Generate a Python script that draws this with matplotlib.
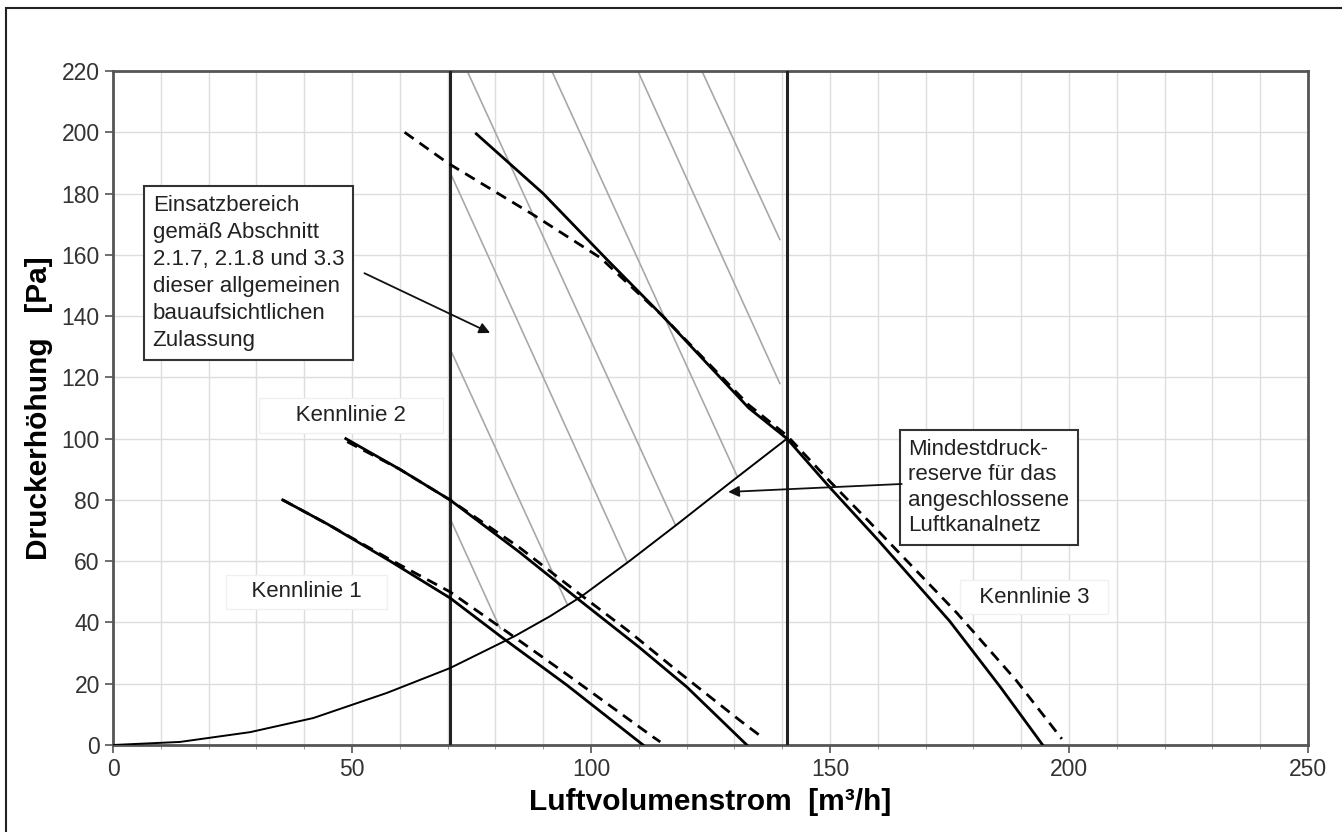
import matplotlib
matplotlib.use("Agg")
import matplotlib.pyplot as plt
from matplotlib.patches import Rectangle

plt.rcParams['font.family'] = ['Liberation Sans', 'DejaVu Sans']

# Kennlinie 1
k1_x = [35.5, 45, 58, 70.5, 81.3, 95, 110.9]
k1_y = [80, 72, 60, 48, 35.2, 19.5, 0]
k1d_x = [35.5, 45, 58, 70.5, 81, 95, 113, 114.5]
k1d_y = [80, 72, 60.5, 50, 38.5, 23, 2.6, 1]

# Kennlinie 2
k2_x = [48.7, 60, 70.5, 85, 97, 110, 120, 132.6]
k2_y = [100, 90, 80, 63, 48, 32, 19, 0]
k2d_x = [49, 60, 70.5, 85, 97, 108, 118.6, 131, 136]
k2d_y = [99, 90, 80, 64.5, 50, 37, 23.5, 8.2, 2.3]

# Kennlinie 3
k3_x = [76, 90, 103, 115, 133, 141, 150, 160, 175, 185.6, 194.5]
k3_y = [199.5, 180, 159, 140, 110, 100, 84, 67, 40.5, 19, 0]
k3d_x = [61, 70, 88, 102, 115, 133, 141, 150, 160, 176.6, 189, 198.5]
k3d_y = [200, 190, 173, 159, 140, 111, 101, 86, 70, 43, 21, 2]

# Anlagenkennlinie (Mindestdruckreserve)
sys_x = [0, 14, 28.7, 41.9, 57.3, 70.5, 84, 91.4, 98, 108, 118, 129, 141]
sys_y = [0, 1, 4.2, 8.8, 17, 25.1, 35.5, 42, 48.5, 60, 72, 85.5, 100]

# Grenzen Einsatzbereich
v_min = 70.5
v_max = 141

# Schraffur (x1, y1, x2, y2)
hatch = [
    (123.2, 220, 139.5, 165),
    (109.8, 220, 139.5, 118),
    (91.8, 220, 130.5, 88),
    (74.1, 220, 117.6, 72),
    (70.5, 187, 107.5, 60),
    (70.9, 128, 95, 46),
    (70.5, 74, 81, 38),
]

fig = plt.figure(figsize=(13.42, 8.32), dpi=100)
ax = fig.add_axes([113 / 1342, 1 - 745 / 832, (1308 - 113) / 1342, (745 - 71) / 832])

ax.set_xlim(0, 250)
ax.set_ylim(0, 220)
ax.set_xticks(range(0, 251, 50))
ax.set_xticks(range(0, 251, 10), minor=True)
ax.set_yticks(range(0, 221, 20))
ax.grid(True, which='minor', axis='x', color='#dddddd', lw=1, zorder=0)
ax.grid(True, which='major', axis='both', color='#dddddd', lw=1, zorder=0)
ax.set_axisbelow(True)
ax.tick_params(axis='both', which='major', labelsize=16.5, labelcolor='#333333',
               color='#555555', length=6, width=1.2, direction='out')
ax.tick_params(axis='x', which='minor', length=3, color='#888888')
for s in ax.spines.values():
    s.set_color('#555555')
    s.set_linewidth(2)

ax.set_xlabel("Luftvolumenstrom  [m³/h]", fontsize=21.5, fontweight='bold', labelpad=5)
ax.set_ylabel("Druckerhöhung   [Pa]", fontsize=21.5, fontweight='bold', labelpad=6)

for x1, y1, x2, y2 in hatch:
    ax.plot([x1, x2], [y1, y2], color='#a8a8a8', lw=1.2, zorder=2)

ax.axvline(v_min, color='#222222', lw=2.2, zorder=3)
ax.axvline(v_max, color='#222222', lw=2.2, zorder=3)

dash = (0, (4, 2.6))
ax.plot(k1_x, k1_y, color='black', lw=2, zorder=4)
ax.plot(k1d_x, k1d_y, color='black', lw=2, ls=dash, zorder=4)
ax.plot(k2_x, k2_y, color='black', lw=2, zorder=4)
ax.plot(k2d_x, k2d_y, color='black', lw=2, ls=dash, zorder=4)
ax.plot(k3_x, k3_y, color='black', lw=2, zorder=4)
ax.plot(k3d_x, k3d_y, color='black', lw=2, ls=dash, zorder=4)
ax.plot(sys_x, sys_y, color='black', lw=1.4, zorder=4)

kl_box = dict(boxstyle='square,pad=0.3', facecolor='white', edgecolor='#f0f0f0', lw=1)
ax.text(49.8, 107.5, "     Kennlinie 2     ", fontsize=16, color='#222222',
        ha='center', va='center', bbox=kl_box, zorder=5)
ax.text(40.5, 50.0, "   Kennlinie 1   ", fontsize=16, color='#222222',
        ha='center', va='center', bbox=kl_box, zorder=5)
ax.text(192.7, 48.3, "  Kennlinie 3  ", fontsize=16, color='#222222',
        ha='center', va='center', bbox=kl_box, zorder=5)

note_box = dict(boxstyle='square,pad=0.4', facecolor='white', edgecolor='#333333', lw=1.5)
ax.text(8.3, 179.5, "Einsatzbereich\ngemäß Abschnitt\n2.1.7, 2.1.8 und 3.3\ndieser allgemeinen\n"
        "bauaufsichtlichen\nZulassung", fontsize=16, color='#222222', linespacing=1.37,
        ha='left', va='top', bbox=note_box, zorder=6)
ax.text(166.4, 100.0, "Mindestdruck-\nreserve für das\nangeschlossene\nLuftkanalnetz",
        fontsize=16, color='#222222', linespacing=1.28,
        ha='left', va='top', bbox=note_box, zorder=6)

arrow = dict(arrowstyle='-|>', color='#111111', lw=1.3, mutation_scale=16,
             shrinkA=0, shrinkB=0)
ax.annotate('', xy=(78.9, 134.5), xytext=(52.6, 154), arrowprops=arrow, zorder=6)
ax.annotate('', xy=(128.7, 82.6), xytext=(165, 85.2), arrowprops=arrow, zorder=6)

fig.patches.append(Rectangle((6 / 1342, -0.05), 1.1, 1 - 8 / 832 + 0.05, transform=fig.transFigure,
                             fill=False, edgecolor='#222222', lw=1.5))

fig.savefig("out.png", dpi=100)
